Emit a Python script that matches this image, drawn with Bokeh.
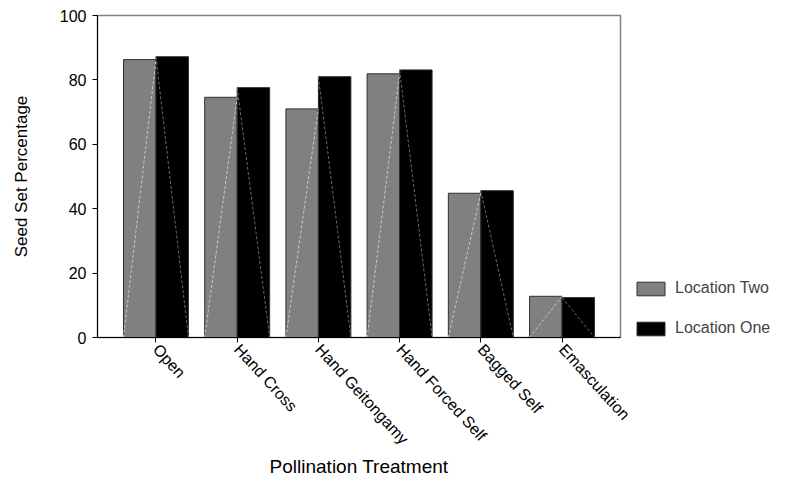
import math
from bokeh.plotting import figure
from bokeh.models import Range1d, FixedTicker, Legend, LegendItem, ColumnDataSource
from bokeh.embed import file_html
from bokeh.resources import INLINE

categories = ["Open", "Hand Cross", "Hand Geitongamy", "Hand Forced Self", "Bagged Self", "Emasculation"]
location_two = [86.3, 74.6, 71.0, 81.9, 44.8, 12.8]
location_one = [87.2, 77.6, 81.0, 83.1, 45.6, 12.4]
y_ticks = [0, 20, 40, 60, 80, 100]

FONT = "Liberation Sans"
BW = 0.4
xs = list(range(len(categories)))

p = figure(frame_width=523, frame_height=322, output_backend="svg", toolbar_location=None,
           x_range=Range1d(-0.72, len(categories) - 0.28), y_range=Range1d(0, 100),
           min_border_left=97, min_border_right=167, min_border_top=15, min_border_bottom=0)

src_two = ColumnDataSource(dict(x=[x - BW / 2 for x in xs], top=location_two,
                                x0=[x - BW for x in xs], x1=xs, y0=[0] * len(xs), y1=location_two))
src_one = ColumnDataSource(dict(x=[x + BW / 2 for x in xs], top=location_one,
                                x0=xs, x1=[x + BW for x in xs], y0=location_one, y1=[0] * len(xs)))

r_two = p.vbar(x="x", top="top", width=BW, bottom=0, source=src_two,
               fill_color="#808080", line_color="#303030", line_width=1)
r_one = p.vbar(x="x", top="top", width=BW, bottom=0, source=src_one,
               fill_color="#000000", line_color="#303030", line_width=1)
p.segment(x0="x0", y0="y0", x1="x1", y1="y1", source=src_two,
          line_color="#c8c8c8", line_width=1, line_dash="3 2")
p.segment(x0="x0", y0="y0", x1="x1", y1="y1", source=src_one,
          line_color="#6a6a6a", line_width=1, line_dash="3 2")

p.xgrid.visible = False
p.ygrid.visible = False
p.outline_line_color = "#808080"
p.outline_line_width = 1.5

p.xaxis.ticker = FixedTicker(ticks=xs)
p.xaxis.major_label_overrides = {i: c for i, c in enumerate(categories)}
p.xaxis.major_label_orientation = -0.83
p.yaxis.ticker = FixedTicker(ticks=y_ticks)
for ax in (p.xaxis, p.yaxis):
    ax.minor_tick_line_color = None
    ax.major_tick_out = 5
    ax.major_tick_in = 0
    ax.axis_line_color = "black"
    ax.major_tick_line_color = "black"
    ax.major_label_text_font = FONT
    ax.major_label_text_color = "black"
    ax.axis_label_text_font = FONT
    ax.axis_label_text_font_style = "normal"
    ax.axis_label_text_color = "black"

p.xaxis.major_label_text_font_size = "16px"
p.xaxis.major_label_standoff = 4
p.xaxis.axis_label = "Pollination Treatment"
p.xaxis.axis_label_text_font_size = "19px"
p.xaxis.axis_label_standoff = 0

p.yaxis.major_label_text_font_size = "16px"
p.yaxis.major_label_standoff = 6
p.yaxis.axis_label = "Seed Set Percentage"
p.yaxis.axis_label_text_font_size = "17px"
p.yaxis.axis_label_standoff = 26

legend = Legend(items=[LegendItem(label="Location Two", renderers=[r_two]),
                       LegendItem(label="Location One", renderers=[r_one])],
                location=(13, 0), orientation="vertical",
                glyph_width=35, glyph_height=17, label_height=17, spacing=22,
                label_standoff=7, padding=0, margin=0,
                label_text_font=FONT, label_text_font_size="16px",
                border_line_color=None, background_fill_alpha=0)
p.add_layout(legend, "right")

open("out.html", "w").write(file_html(p, INLINE))
